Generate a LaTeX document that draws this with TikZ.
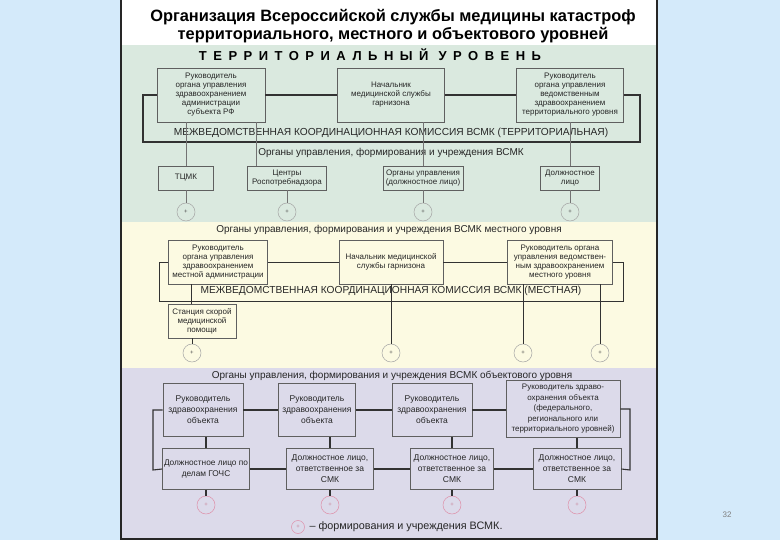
\documentclass[tikz,border=0pt]{standalone}
\usepackage{fontspec}
\setmainfont{Liberation Sans}
\usepackage{xcolor}
\usepackage{tikz}
\usetikzlibrary{positioning}

\definecolor{slideblue}{RGB}{212,234,250}
\definecolor{terrgreen}{RGB}{218,233,223}
\definecolor{localcream}{RGB}{252,250,226}
\definecolor{objlilac}{RGB}{220,218,234}
\definecolor{linegray}{RGB}{50,50,50}
\definecolor{boxgray}{RGB}{95,95,95}
\definecolor{markpink}{RGB}{222,145,170}

\begin{document}
\begin{tikzpicture}[x=1pt, y=-1pt, font=\fontsize{8}{9}\selectfont,
  orgbox/.style={draw=boxgray, line width=0.6pt, align=center, inner sep=1pt, text=black!85},
  formcirc/.style={circle, draw=black!35, line width=0.5pt, minimum size=18pt, inner sep=0pt,
    text=black!70, font=\fontsize{6}{6}\selectfont},
  objcirc/.style={formcirc, draw=markpink, text=markpink!90!black},
  mainline/.style={draw=linegray, line width=1.6pt},
  thinline/.style={draw=black!55, line width=0.5pt},
  localline/.style={draw=linegray, line width=0.8pt},
  objline/.style={draw=linegray, line width=1.1pt},
  bandhead/.style={text=black!85, font=\fontsize{10}{12}\selectfont},
  commlabel/.style={text=black!85, font=\fontsize{10.2}{12}\selectfont}]
\useasboundingbox (0,0) rectangle (780,540);
% slide and level bands
\fill[slideblue] (0,0) rectangle (780,540);
\fill[white] (121,0) rectangle (657,45);
\fill[terrgreen] (121,45) rectangle (657,222);
\fill[localcream] (121,222) rectangle (657,368);
\fill[objlilac] (121,368) rectangle (657,538);
\draw[black!85, line width=2pt] (121,-2) -- (121,539) -- (657,539) -- (657,-2);
% title
\node[align=center, font=\fontsize{16.4}{18}\selectfont\bfseries] (title) at (393,26)
  {Организация Всероссийской службы медицины катастроф\\
   территориального, местного и объектового уровней};
\node[font=\fontsize{13}{15}\selectfont\bfseries\addfontfeature{LetterSpace=50}] (terrhead) at (370,55)
  {ТЕРРИТОРИАЛЬНЫЙ УРОВЕНЬ};

% territorial level
\node[orgbox, minimum width=108, minimum height=54] (A) at (211,95)
  {Руководитель\\органа управления\\здравоохранением\\администрации\\субъекта РФ};
\node[orgbox, minimum width=107, minimum height=54] (B) at (391,95)
  {Начальник\\медицинской службы\\гарнизона};
\node[orgbox, minimum width=107, minimum height=54] (C) at (570,95)
  {Руководитель\\органа управления\\ведомственным\\здравоохранением\\территориального уровня};
\draw[mainline] (A.east) -- (B.west);
\draw[mainline] (B.east) -- (C.west);
\coordinate (terrL) at (143,142);
\coordinate (terrR) at (640,142);
\draw[mainline] (A.west) -| (terrL) -- (terrR) |- (C.east);
\node[commlabel] (terrcomm) at (391,133)
  {МЕЖВЕДОМСТВЕННАЯ КООРДИНАЦИОННАЯ КОМИССИЯ ВСМК (ТЕРРИТОРИАЛЬНАЯ)};
\node[bandhead] (terrsub) at (391,153) {Органы управления, формирования и учреждения ВСМК};
\node[orgbox, minimum width=55, minimum height=24] (T1) at (186,178) {ТЦМК};
\node[orgbox, minimum width=79, minimum height=24] (T2) at (287,178) {Центры\\Роспотребнадзора};
\node[orgbox, minimum width=80, minimum height=24] (T3) at (423,178) {Органы управления\\(должностное лицо)};
\node[orgbox, minimum width=59, minimum height=24] (T4) at (570,178) {Должностное\\лицо};
\draw[thinline] (T1.north) -- (T1.north |- A.south);
\draw[thinline] ([xshift=9pt]T2.north west) -- ([xshift=9pt]T2.north west |- A.south);
\draw[thinline] (T3.north) -- (T3.north |- B.south);
\draw[thinline] (T4.north) -- (T4.north |- C.south);
\node[formcirc] (c1) at (186,212) {+};
\node[formcirc] (c2) at (287,212) {+};
\node[formcirc] (c3) at (423,212) {+};
\node[formcirc] (c4) at (570,212) {+};
\draw[thinline] (T1.south) -- (c1.north);
\draw[thinline] (T2.south) -- (c2.north);
\draw[thinline] (T3.south) -- (c3.north);
\draw[thinline] (T4.south) -- (c4.north);

% local level
\node[bandhead] (localhead) at (389,230)
  {Органы управления, формирования и учреждения ВСМК местного уровня};
\node[orgbox, minimum width=99, minimum height=44] (D) at (218,262)
  {Руководитель\\органа управления\\здравоохранением\\местной администрации};
\node[orgbox, minimum width=104, minimum height=44] (E) at (391,262)
  {Начальник медицинской\\службы гарнизона};
\node[orgbox, minimum width=105, minimum height=44] (F) at (560,262)
  {Руководитель органа\\управления ведомствен-\\ным здравоохранением\\местного уровня};
\draw[localline] (D.east) -- (E.west);
\draw[localline] (E.east) -- (F.west);
\coordinate (localL) at (159,301);
\coordinate (localR) at (623,301);
\draw[localline] (D.west) -| (localL) -- (localR) |- (F.east);
\node[commlabel] (localcomm) at (391,291)
  {МЕЖВЕДОМСТВЕННАЯ КООРДИНАЦИОННАЯ КОМИССИЯ ВСМК (МЕСТНАЯ)};
\node[orgbox, minimum width=68, minimum height=34] (S) at (202,321)
  {Станция скорой\\медицинской\\помощи};
\node[formcirc] (c5) at (192,353) {+};
\node[formcirc] (c6) at (391,353) {+};
\node[formcirc] (c7) at (523,353) {+};
\node[formcirc] (c8) at (600,353) {+};
\draw[localline] ([xshift=24pt]S.north west) -- ([xshift=24pt]S.north west |- D.south);
\draw[localline] (c5.north) -- (c5.north |- S.south);
\draw[localline] (c6.north) -- (E.south);
\draw[localline] (c7.north) -- (c7.north |- F.south);
\draw[localline] (c8.north) -- (c8.north |- F.south);

% object level
\node[bandhead] (objhead) at (392,376)
  {Органы управления, формирования и учреждения ВСМК объектового уровня};
\node[orgbox, minimum width=80, minimum height=53, font=\fontsize{8.5}{11}\selectfont] (G1) at (203,410)
  {Руководитель\\здравоохранения\\объекта};
\node[orgbox, minimum width=77, minimum height=53, font=\fontsize{8.5}{11}\selectfont] (G2) at (317,410)
  {Руководитель\\здравоохранения\\объекта};
\node[orgbox, minimum width=80, minimum height=53, font=\fontsize{8.5}{11}\selectfont] (G3) at (432,410)
  {Руководитель\\здравоохранения\\объекта};
\node[orgbox, minimum width=114, minimum height=57, font=\fontsize{8}{10.5}\selectfont] (G4) at (563,409)
  {Руководитель здраво-\\охранения объекта\\(федерального,\\регионального или\\территориального уровней)};
\node[orgbox, minimum width=87, minimum height=41, font=\fontsize{8.3}{11}\selectfont] (H1) at (206,469)
  {Должностное лицо по\\делам ГОЧС};
\node[orgbox, minimum width=87, minimum height=41, font=\fontsize{8.5}{11}\selectfont] (H2) at (330,469)
  {Должностное лицо,\\ответственное за\\СМК};
\node[orgbox, minimum width=83, minimum height=41, font=\fontsize{8.5}{11}\selectfont] (H3) at (452,469)
  {Должностное лицо,\\ответственное за\\СМК};
\node[orgbox, minimum width=88, minimum height=41, font=\fontsize{8.5}{11}\selectfont] (H4) at (577,469)
  {Должностное лицо,\\ответственное за\\СМК};
\draw[objline] (G1.east) -- (G2.west);
\draw[objline] (G2.east) -- (G3.west);
\draw[objline] (G3.east) -- (G3.east -| G4.west);
\draw[objline] (H1.east) -- (H2.west);
\draw[objline] (H2.east) -- (H3.west);
\draw[objline] (H3.east) -- (H4.west);
\draw[objline] (H1.north) -- (H1.north |- G1.south);
\draw[objline] (H2.north) -- (H2.north |- G2.south);
\draw[objline] (H3.north) -- (H3.north |- G3.south);
\draw[objline] (H4.north) -- (H4.north |- G4.south);
\coordinate (objL) at (153,470);
\coordinate (objR) at (630,470);
\draw[objline] (G1.west) -| (objL) -- (H1.west);
\draw[objline] (G4.east) -| (objR) -- (H4.east);
\node[objcirc] (c9) at (206,505) {+};
\node[objcirc] (c10) at (330,505) {+};
\node[objcirc] (c11) at (452,505) {+};
\node[objcirc] (c12) at (577,505) {+};
\draw[objline] (H1.south) -- (c9.north);
\draw[objline] (H2.south) -- (c10.north);
\draw[objline] (H3.south) -- (c11.north);
\draw[objline] (H4.south) -- (c12.north);
% legend
\node[objcirc, minimum size=13pt] (legcirc) at (298,527) {+};
\node[anchor=west, text=black!85, font=\fontsize{10.8}{12}\selectfont] (legtext) at (306,527)
  {-- формирования и учреждения ВСМК.};
% page number
\node[text=black!50, font=\fontsize{8}{9}\selectfont] (pagenum) at (727,515) {32};
\end{tikzpicture}
\end{document}
